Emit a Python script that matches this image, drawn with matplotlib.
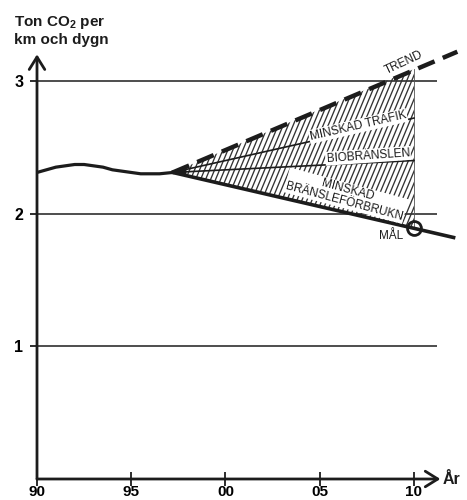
import numpy as np
import matplotlib
matplotlib.use("Agg")
import matplotlib.pyplot as plt
from matplotlib.patches import Polygon
from matplotlib.collections import LineCollection

plt.rcParams['font.family'] = ['Liberation Sans', 'DejaVu Sans']
plt.rcParams['mathtext.fontset'] = 'custom'
plt.rcParams['mathtext.rm'] = 'Liberation Sans:bold'
plt.rcParams['mathtext.bf'] = 'Liberation Sans:bold'

# ---- data ----
hist_years = [1990, 1990.5, 1991, 1991.5, 1992, 1992.5, 1993, 1993.5, 1994,
              1994.5, 1995, 1995.5, 1996, 1996.5, 1997.2]
hist_values = [2.31, 2.33, 2.35, 2.36, 2.37, 2.37, 2.36, 2.35, 2.33,
               2.32, 2.31, 2.30, 2.30, 2.30, 2.31]

branch_year = 1997.2
branch_value = 2.31
target_year = 2010
scenario_labels = ['TREND', 'MINSKAD TRAFIK', 'BIOBRÄNSLEN', 'MINSKAD\nBRÄNSLEFÖRBRUKN']
scenario_2010 = [3.09, 2.72, 2.40, 1.89]
extend_year = 2012.3
trend_ext_value = 3.22
goal_ext_value = 1.82
goal_label = 'MÅL'

x_ticks = [1990, 1995, 2000, 2005, 2010]
x_ticklabels = ['90', '95', '00', '05', '10']
y_ticks = [1, 2, 3]
y_ticklabels = ['1', '2', '3']

ink = '#1c1c1c'

fig = plt.figure(figsize=(4.67, 5.0), dpi=100)
W, H = 467, 500
x0_px, y0_px = 37, 479
px_per_year = 18.85
px_per_unit = 132.7
xmax, ymax = 2011.4, 3.2
ax = fig.add_axes([x0_px / W, (H - y0_px) / H,
                   (xmax - 1990) * px_per_year / W, ymax * px_per_unit / H])
ax.set_xlim(1990, xmax)
ax.set_ylim(0, ymax)
for s in ax.spines.values():
    s.set_visible(False)

# axes with arrows
arrow_kw = dict(arrowstyle='->,head_length=0.45,head_width=0.28', lw=2.0,
                color=ink, mutation_scale=20, shrinkA=0, shrinkB=0)
ax.annotate('', xy=(1, 0), xytext=(0, 0), xycoords='axes fraction',
            arrowprops=arrow_kw, annotation_clip=False)
ax.annotate('', xy=(0, 1), xytext=(0, 0), xycoords='axes fraction',
            arrowprops=arrow_kw, annotation_clip=False)

# grid lines
ax.hlines(y_ticks, 1990, 2011.2, color=ink, lw=1.1, zorder=1)

ax.set_xticks(x_ticks)
ax.set_xticklabels(x_ticklabels, fontsize=11, fontweight='bold')
ax.set_yticks(y_ticks)
ax.set_yticklabels(y_ticklabels, fontsize=11.5, fontweight='bold')
ax.tick_params(axis='x', direction='inout', length=10, width=1.3, color=ink, pad=-1)
ax.tick_params(axis='y', direction='out', length=5, width=1.3, color=ink, pad=5)

ax.text(1.005, 0.0, 'År', transform=ax.transAxes, fontsize=11.5, fontweight='bold',
        ha='left', va='center', color=ink)
fig.text(14 / W, 1 - 14 / H, 'Ton CO$_{2}$ per\nkm och dygn', fontsize=11,
         fontweight='bold', ha='left', va='top', color=ink, linespacing=1.2)

# history
ax.plot(hist_years, hist_values, color=ink, lw=2.3, solid_capstyle='round', zorder=4)

# hatched region between trend and goal up to 2010
def line_val(v_end, x):
    return branch_value + (v_end - branch_value) * (x - branch_year) / (target_year - branch_year)

poly_pts = [(branch_year, branch_value), (target_year, scenario_2010[0]),
            (target_year, scenario_2010[3])]
poly = Polygon(poly_pts, closed=True, fc='none', ec='none')
ax.add_patch(poly)
slope_px = 2.4
dy = ymax
dx = dy * px_per_unit / slope_px / px_per_year
hx = np.arange(branch_year - dx, target_year + 0.3, 5.0 / px_per_year)
segs = [[(x, 0), (x + dx, dy)] for x in hx]
lc = LineCollection(segs, colors='#333333', linewidths=0.95, zorder=2)
ax.add_collection(lc)
lc.set_clip_path(poly)
# right edge of hatch
ax.plot([target_year, target_year], [scenario_2010[3], scenario_2010[0]],
        color='#555555', lw=0.6, zorder=2)

# dark tip
tip_x = np.linspace(branch_year, branch_year + 0.7, 10)
ax.fill_between(tip_x, line_val(scenario_2010[3], tip_x), line_val(scenario_2010[0], tip_x),
                color=ink, lw=0, zorder=3)

# scenario lines
ax.plot([branch_year, extend_year], [branch_value, trend_ext_value], color=ink, lw=3.2,
        dashes=(4, 2), clip_on=False, zorder=4)
ax.plot([branch_year, target_year], [branch_value, scenario_2010[1]], color=ink, lw=1.2, zorder=4)
ax.plot([branch_year, target_year], [branch_value, scenario_2010[2]], color=ink, lw=1.2, zorder=4)
ax.plot([branch_year, 2012.1], [branch_value, goal_ext_value], color=ink, lw=2.6,
        clip_on=False, zorder=4)
ax.plot([target_year], [scenario_2010[3]], marker='o', ms=10, mfc='none', mec=ink,
        mew=2.0, zorder=5)

bbox = dict(boxstyle='square,pad=0.08', fc='white', ec='none')
lab_kw = dict(fontsize=8.5, ha='center', va='center', color=ink, rotation_mode='anchor',
              zorder=6)
ax.text(2009.47, 3.14, scenario_labels[0], rotation=25, bbox=bbox, **lab_kw)
ax.text(2007.03, 2.66, scenario_labels[1], rotation=13, bbox=bbox, **lab_kw)
ax.text(2007.56, 2.435, scenario_labels[2], rotation=4, bbox=bbox, **lab_kw)
ax.text(2006.39, 2.135, scenario_labels[3], rotation=-15, bbox=bbox, linespacing=0.95,
        multialignment='center', **lab_kw)
ax.text(2008.78, 1.83, goal_label, rotation=0, bbox=bbox, **lab_kw)

fig.savefig('out.png', dpi=100, facecolor='white')
